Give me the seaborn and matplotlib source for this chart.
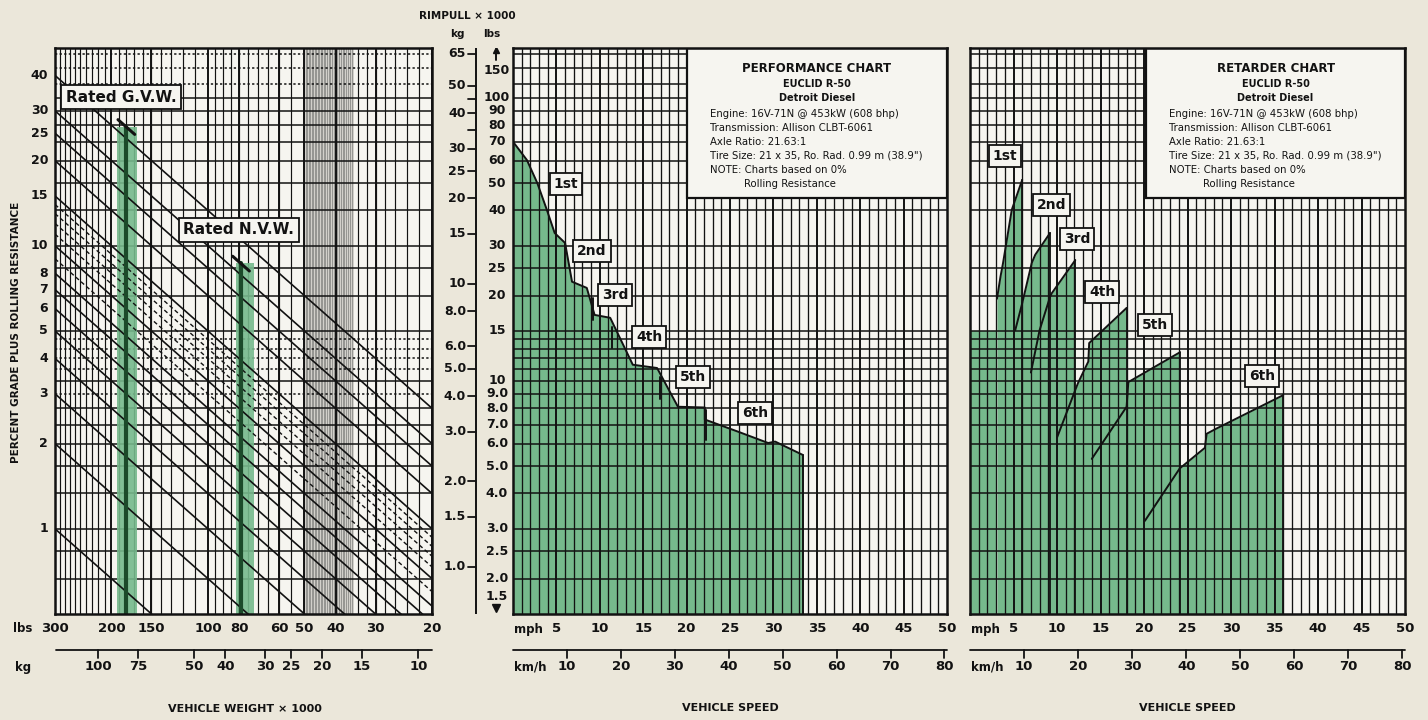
import numpy as np
import matplotlib
matplotlib.use("Agg")
import matplotlib.pyplot as plt
import seaborn as sns
from matplotlib.transforms import blended_transform_factory as blend

# ---------------- data ----------------
rimpull_limits = (1.5, 150)            # thousand lbs
weight_limits = (300, 20)              # thousand lbs (reversed)
speed_limits = (0, 50)                 # mph

weight_lbs_ticks = [300, 200, 150, 100, 80, 60, 50, 40, 30, 20]
weight_kg_ticks = [100, 75, 50, 40, 30, 25, 20, 15, 10]
grade_labels = [40, 30, 25, 20, 15, 10, 8, 7, 6, 5, 4, 3, 2, 1]
grade_solid = [1, 2, 3, 4, 5, 6, 7, 8, 10, 15, 20, 25, 30, 40]
grade_dashed = [9, 11, 12, 13, 14]

rimpull_lbs_ticks = [150, 100, 90, 80, 70, 60, 50, 40, 30, 25, 20, 15,
                     10, 9, 8, 7, 6, 5, 4, 3, 2.5, 2, 1.5]
rimpull_lbs_labels = ["150", "100", "90", "80", "70", "60", "50", "40", "30", "25", "20", "15",
                      "10", "9.0", "8.0", "7.0", "6.0", "5.0", "4.0", "3.0", "2.5", "2.0", "1.5"]
rimpull_kg_ticks = [65, 50, 40, 30, 25, 20, 15, 10, 8, 6, 5, 4, 3, 2, 1.5, 1]
rimpull_kg_labels = ["65", "50", "40", "30", "25", "20", "15", "10", "8.0", "6.0",
                     "5.0", "4.0", "3.0", "2.0", "1.5", "1.0"]
rimpull_kg_minor = [45, 35]
rimpull_grid = [2, 2.5, 3, 4, 5, 6, 7, 8, 9, 10, 11, 12, 13, 14, 15, 20, 25,
                30, 40, 50, 60, 70, 80, 90, 100, 112, 127, 143]
rimpull_grid_dotted = [11, 12, 13, 14, 112, 127, 143, 9]

rated_gvw = 180
gvw_band = [166, 192]
gvw_top = 79
rated_nvw = 79
nvw_band = [72, 82]
nvw_top = 26

speed_mph_ticks = [5, 10, 15, 20, 25, 30, 35, 40, 45, 50]
speed_kmh_ticks = [10, 20, 30, 40, 50, 60, 70, 80]

perf_speed = [0, 1.6, 2.8, 3.9, 4.8, 6.0, 6.8, 8.5, 9.4, 11.2, 13.8, 16.6,
              19.0, 22.1, 22.1, 26.0, 29.4, 30.2, 33.4]
perf_rimpull = [70, 60.3, 50.0, 40.2, 33.3, 30.7, 22.4, 21.3, 17.1, 16.7, 11.4, 11.1,
                8.1, 8.05, 7.3, 6.6, 6.03, 6.1, 5.47]
perf_shift_speed = [6.0, 9.2, 11.4, 16.9, 22.2]
perf_shift_top = [30.7, 19.6, 15.5, 10.3, 7.9]
perf_shift_bottom = [25.0, 16.4, 13.1, 8.6, 6.2]
perf_gears = ["1st", "2nd", "3rd", "4th", "5th", "6th"]
perf_label_speed = [6.1, 9.1, 11.75, 15.7, 20.7, 27.9]
perf_label_rimpull = [49.5, 28.8, 20.1, 14.3, 10.3, 7.7]

ret_base_speed = [0, 3.1]
ret_base_effort = [15.0, 15.0]
ret1_speed = [3.1, 3.5, 3.8, 4.8, 6.0]
ret1_effort = [19.5, 23.3, 26.1, 40.2, 51.3]
ret2_speed = [5.2, 6.0, 7.1, 7.5, 9.2]
ret2_effort = [15.1, 18.8, 26.1, 27.9, 33.3]
ret3_speed = [7.0, 8.0, 9.2, 9.4, 12.1]
ret3_effort = [10.7, 15.1, 19.8, 20.4, 26.7]
ret4_speed = [10.0, 12.4, 13.6, 13.7, 18.0]
ret4_effort = [6.3, 9.8, 11.7, 13.6, 18.1]
ret5_speed = [14.0, 18.0, 18.2, 24.1]
ret5_effort = [5.3, 8.1, 9.9, 12.6]
ret6_speed = [20.1, 24.1, 27.0, 27.2, 28.4, 36.0]
ret6_effort = [3.2, 4.9, 5.8, 6.5, 6.8, 8.9]
ret_label_speed = [4.0, 9.4, 12.3, 15.2, 21.3, 33.6]
ret_label_effort = [62.4, 41.7, 31.7, 20.6, 15.8, 10.4]

spec_lines = ["Engine: 16V-71N @ 453kW (608 bhp)",
              "Transmission: Allison CLBT-6061",
              "Axle Ratio: 21.63:1",
              "Tire Size: 21 x 35, Ro. Rad. 0.99 m (38.9\")",
              "NOTE: Charts based on 0%"]

LB_PER_KG = 2.2046
MPH_PER_KMH = 1 / 1.609344

# ---------------- style ----------------
sns.set_theme(style="white")
plt.rcParams['font.family'] = ['DejaVu Sans']
BG = '#ebe7da'
PANEL = '#f6f5f0'
GREEN = '#76b98c'
DKGREEN = '#1c4a2a'
INK = '#121212'

W, H = 1428, 720
fig = plt.figure(figsize=(W / 100, H / 100), dpi=100)
fig.patch.set_facecolor(BG)


def box(x0, y0, x1, y1):
    return [x0 / W, 1 - y1 / H, (x1 - x0) / W, (y1 - y0) / H]


def ftext(x, y, s, **kw):
    kw.setdefault('color', INK)
    fig.text(x / W, 1 - y / H, s, **kw)


def ay(ypx):
    return (614 - ypx) / 566.0


def setup(ax):
    ax.set_facecolor(PANEL)
    ax.set_yscale('log')
    ax.set_ylim(*rimpull_limits)
    ax.tick_params(which='both', length=0, labelleft=False, labelbottom=False)
    ax.grid(False)
    for sp in ax.spines.values():
        sp.set_color(INK)
        sp.set_linewidth(1.8)
        sp.set_zorder(6)


def hgrid(ax, lw=1.1):
    for v in rimpull_grid:
        ls = (0, (1.5, 1.5)) if v in rimpull_grid_dotted and ax is ax0 else '-'
        ax.axhline(v, color=INK, lw=lw, ls=ls, zorder=2)


# ---------------- left: weight / grade chart ----------------
ax0 = fig.add_axes(box(55, 48, 432, 614))
ax0.set_xscale('log')
setup(ax0)
ax0.set_xlim(*weight_limits)

ax0.axvspan(50, 35, color='#d2d0ca', lw=0, zorder=0.5)
wt_grid = list(range(290, 200, -10)) + list(range(190, 100, -10)) + \
    list(range(95, 50, -5)) + list(range(34, 20, -2))
for w in wt_grid:
    ax0.axvline(w, color=INK, lw=0.85, zorder=2)
for w in np.arange(50, 35, -0.5):
    ax0.axvline(w, color='#7d7d7a', lw=0.5, zorder=1.5)
for w in weight_lbs_ticks:
    ax0.axvline(w, color=INK, lw=1.4, zorder=2)
hgrid(ax0)

wline = np.geomspace(300, 20, 60)
for g in grade_solid:
    ax0.plot(wline, wline * g / 100, color=INK, lw=1.2, zorder=3)
for g in grade_dashed:
    ax0.plot(wline, wline * g / 100, color=INK, lw=1.0, ls=(0, (3, 2)), zorder=3)

# rated weights
for band, top, val in [(gvw_band, gvw_top, rated_gvw), (nvw_band, nvw_top, rated_nvw)]:
    ax0.fill_between(band, rimpull_limits[0], top, color=GREEN, lw=0, zorder=2.5, alpha=0.9)
    ax0.plot([val, val], [rimpull_limits[0], top], color=DKGREEN, lw=3.0, zorder=4)
    g = top / val
    tw = np.array([val * 1.06, val * 0.94])
    ax0.plot(tw, tw * g, color=INK, lw=2.2, zorder=4)

bb = dict(boxstyle='square,pad=0.3', fc=PANEL, ec=INK, lw=1.3)
ax0.text(0.175, 0.913, "Rated G.V.W.", transform=ax0.transAxes, ha='center', va='center',
         fontsize=11, fontweight='bold', color=INK, bbox=bb, zorder=7)
ax0.text(0.487, 0.679, "Rated N.V.W.", transform=ax0.transAxes, ha='center', va='center',
         fontsize=11, fontweight='bold', color=INK, bbox=bb, zorder=7)

tr0 = blend(ax0.transAxes, ax0.transData)
for g in grade_labels:
    ax0.text(-0.018, 3 * g, str(g), transform=tr0, ha='right', va='center',
             fontsize=9, fontweight='bold', color=INK)

trb0 = blend(ax0.transData, ax0.transAxes)
for w in weight_lbs_ticks:
    ax0.text(w, ay(629), str(w), transform=trb0, ha='center', va='center',
             fontsize=9.5, fontweight='bold', color=INK, clip_on=False)
ax0.plot([297, 20], [ay(650), ay(650)], transform=trb0, color=INK, lw=1.3, clip_on=False)
for k in weight_kg_ticks:
    ax0.plot([k * LB_PER_KG] * 2, [ay(650), ay(658)], transform=trb0, color=INK, lw=1.3, clip_on=False)
    ax0.text(k * LB_PER_KG, ay(667), str(k), transform=trb0, ha='center', va='center',
             fontsize=9.5, fontweight='bold', color=INK, clip_on=False)
ftext(23, 629, "lbs", ha='center', va='center', fontsize=8.5, fontweight='bold')
ftext(23, 667, "kg", ha='center', va='center', fontsize=8.5, fontweight='bold')
ftext(245, 709, "VEHICLE WEIGHT × 1000", ha='center', va='center', fontsize=8, fontweight='bold')
ftext(16, 332, "PERCENT GRADE PLUS ROLLING RESISTANCE", rotation=90, ha='center', va='center',
      fontsize=7.5, fontweight='bold')

# ---------------- middle rimpull scale ----------------
axm = fig.add_axes(box(432, 48, 513, 614))
axm.set_xlim(432, 513)
axm.set_yscale('log')
axm.set_ylim(*rimpull_limits)
axm.set_axis_off()
axm.plot([476, 476], list(rimpull_limits), color=INK, lw=1.4)
for k, lab in zip(rimpull_kg_ticks, rimpull_kg_labels):
    axm.plot([468, 476], [k * LB_PER_KG] * 2, color=INK, lw=1.3)
    axm.text(466, k * LB_PER_KG, lab, ha='right', va='center', fontsize=9,
             fontweight='bold', color=INK)
for k in rimpull_kg_minor:
    axm.plot([468, 476], [k * LB_PER_KG] * 2, color=INK, lw=1.3)
for v, lab in zip(rimpull_lbs_ticks, rimpull_lbs_labels):
    off = -22 if v == rimpull_lbs_ticks[0] else (18 if v == rimpull_lbs_ticks[-1] else 0)
    axm.annotate(lab, (497, v), xytext=(0, off), textcoords='offset pixels', ha='center',
                 va='center', fontsize=9, fontweight='bold', color=INK)
axm.plot([496, 496], [rimpull_limits[1] / 1.10, rimpull_limits[1] / 1.01], color=INK, lw=1.4)
axm.plot([496], [rimpull_limits[1] / 1.02], marker='^', ms=5, color=INK)
axm.plot([496], [rimpull_limits[0] * 1.05], marker='v', ms=6, color=INK)
ftext(467, 16, "RIMPULL × 1000", ha='center', va='center', fontsize=7.5, fontweight='bold')
ftext(457, 34, "kg", ha='center', va='center', fontsize=7.5, fontweight='bold')
ftext(492, 34, "lbs", ha='center', va='center', fontsize=7.5, fontweight='bold')


# ---------------- speed charts ----------------
def speed_chart(rect, title, label_x0):
    ax = fig.add_axes(rect)
    setup(ax)
    ax.set_xlim(*speed_limits)
    for m in range(1, 50):
        ax.axvline(m, color=INK, lw=1.4 if m % 5 == 0 else 0.95, zorder=2)
    hgrid(ax)
    trb = blend(ax.transData, ax.transAxes)
    for m in speed_mph_ticks:
        ax.text(m, ay(629), str(m), transform=trb, ha='center', va='center', fontsize=9.5,
                fontweight='bold', color=INK, clip_on=False)
    ax.plot([0, 50], [ay(650), ay(650)], transform=trb, color=INK, lw=1.3, clip_on=False)
    for k in speed_kmh_ticks:
        ax.plot([k * MPH_PER_KMH] * 2, [ay(650), ay(658)], transform=trb, color=INK, lw=1.3,
                clip_on=False)
        ax.text(k * MPH_PER_KMH, ay(667), str(k), transform=trb, ha='center', va='center',
                fontsize=9.5, fontweight='bold', color=INK, clip_on=False)
    ax.text(0.035, ay(629), "mph", transform=ax.transAxes, ha='center', va='center',
            fontsize=8.5, fontweight='bold', color=INK, clip_on=False)
    ax.text(0.04, ay(667), "km/h", transform=ax.transAxes, ha='center', va='center',
            fontsize=8.5, fontweight='bold', color=INK, clip_on=False)
    ax.text(0.5, ay(708), "VEHICLE SPEED", transform=ax.transAxes, ha='center', va='center',
            fontsize=8, fontweight='bold', color=INK, clip_on=False)
    # info box
    ax.add_patch(plt.Rectangle((label_x0, 0.735), 1 - label_x0, 0.265, transform=ax.transAxes,
                               fc=PANEL, ec=INK, lw=1.6, zorder=5))
    bx0 = ax.transAxes.transform((label_x0, 0))[0]
    cx = (bx0 + ax.transAxes.transform((1, 0))[0]) / 2
    ftext(cx, 68, title, ha='center', va='center', fontsize=8.5, fontweight='bold', zorder=8)
    ftext(cx, 84, "EUCLID R-50", ha='center', va='center', fontsize=7, fontweight='bold', zorder=8)
    ftext(cx, 98, "Detroit Diesel", ha='center', va='center', fontsize=7, fontweight='bold', zorder=8)
    for i, s in enumerate(spec_lines):
        ftext(bx0 + 23, 114 + 14 * i, s, ha='left', va='center', fontsize=7.3, zorder=8)
    ftext(bx0 + 57, 184, "Rolling Resistance", ha='left', va='center', fontsize=7.3, zorder=8)
    return ax


gbox = dict(boxstyle='square,pad=0.28', fc=PANEL, ec=INK, lw=1.3)

ax1 = speed_chart(box(513, 48, 947, 614), "PERFORMANCE CHART", 0.401)
ax1.fill_between(perf_speed, rimpull_limits[0], perf_rimpull, color=GREEN, lw=0, zorder=1)
sns.lineplot(x=perf_speed, y=perf_rimpull, ax=ax1, color=INK, lw=1.4, estimator=None,
             sort=False, zorder=4)
ax1.plot([perf_speed[-1]] * 2, [rimpull_limits[0], perf_rimpull[-1]], color=INK, lw=1.4, zorder=4)
for s, t, b in zip(perf_shift_speed, perf_shift_top, perf_shift_bottom):
    ax1.plot([s, s], [b, t], color=INK, lw=1.4, zorder=4)
for g, s, r in zip(perf_gears, perf_label_speed, perf_label_rimpull):
    ax1.text(s, r, g, ha='center', va='center', fontsize=10, fontweight='bold', color=INK,
             bbox=gbox, zorder=7)

ax2 = speed_chart(box(970, 48, 1405, 614), "RETARDER CHART", 0.405)
ax2.fill_between(ret_base_speed, rimpull_limits[0], ret_base_effort, color=GREEN, lw=0, zorder=1)
ret_speeds = [ret1_speed, ret2_speed, ret3_speed, ret4_speed, ret5_speed, ret6_speed]
ret_efforts = [ret1_effort, ret2_effort, ret3_effort, ret4_effort, ret5_effort, ret6_effort]
for sp, ef in zip(ret_speeds, ret_efforts):
    ax2.fill_between(sp, rimpull_limits[0], ef, color=GREEN, lw=0, zorder=1)
for sp, ef in zip(ret_speeds, ret_efforts):
    sns.lineplot(x=sp, y=ef, ax=ax2, color=INK, lw=1.4, estimator=None, sort=False, zorder=4)
    ax2.plot([sp[-1]] * 2, [rimpull_limits[0], ef[-1]], color=INK, lw=1.3, zorder=3)
for g, s, r in zip(perf_gears, ret_label_speed, ret_label_effort):
    ax2.text(s, r, g, ha='center', va='center', fontsize=10, fontweight='bold', color=INK,
             bbox=gbox, zorder=7)

fig.savefig("out.png", dpi=100, facecolor=BG)
